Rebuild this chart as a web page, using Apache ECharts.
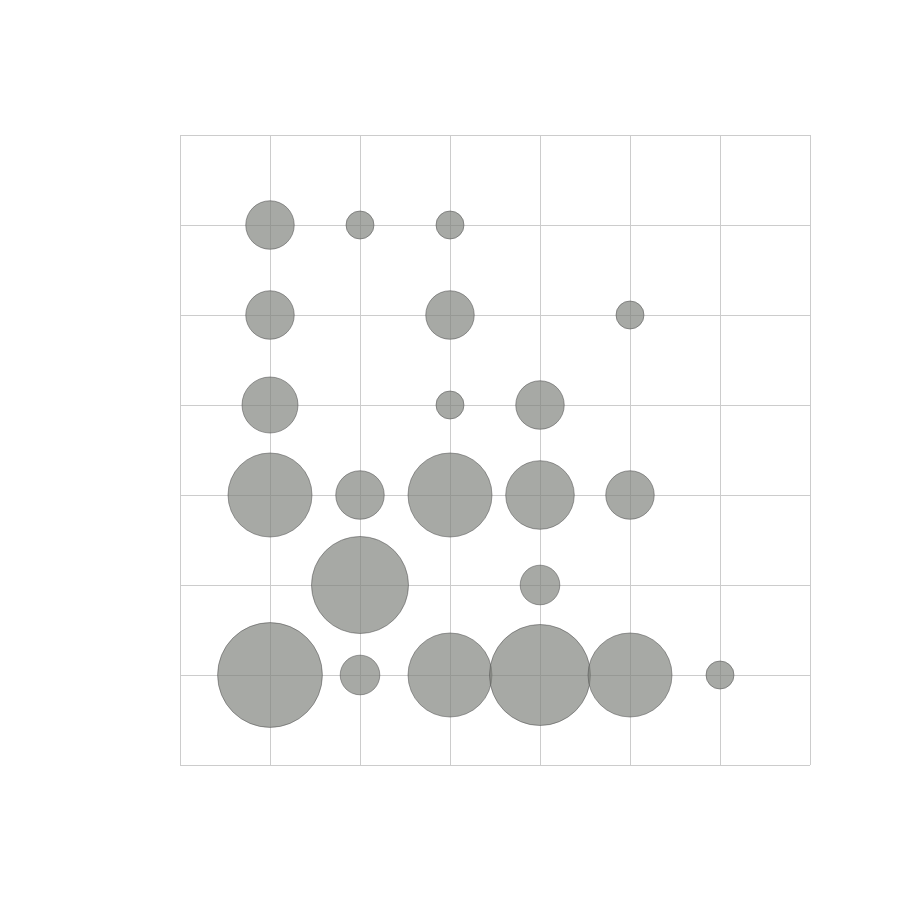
<!DOCTYPE html>
<html>
<head>
<meta charset="utf-8">
<script src="https://cdn.jsdelivr.net/npm/echarts@6/dist/echarts.min.js"></script>
<style>html,body{margin:0;padding:0;background:#fff}#c{width:900px;height:900px}</style>
</head>
<body>
<div id="c"></div>
<script>
const xValues = [1,2,3, 1,3,5, 1,3,4, 1,2,3,4,5, 2,4, 1,2,3,4,5,6];
const yValues = [6,6,6, 5,5,5, 4,4,4, 3,3,3,3,3, 2,2, 1,1,1,1,1,1];
const counts  = [3,1,1, 3,3,1, 4,1,3, 9,3,9,6,3, 12,2, 14,2,9,13,9,1];

const data = xValues.map((x, i) => [x, yValues[i], counts[i]]);
const chart = echarts.init(document.getElementById('c'));
const axisCommon = {
  type: 'value', min: 0, max: 7, interval: 1,
  axisLabel: { show: false }, axisTick: { show: false },
  axisLine: { show: false },
  splitLine: { show: true, lineStyle: { color: '#cccccc', width: 1 } }
};
chart.setOption({
  animation: false,
  backgroundColor: '#ffffff',
  grid: { left: 180, right: 90, top: 135, bottom: 135 },
  xAxis: axisCommon,
  yAxis: axisCommon,
  series: [{
    type: 'scatter',
    data: data,
    symbolSize: d => 28 * Math.sqrt(d[2]),
    itemStyle: { color: 'rgba(125,128,123,0.68)', borderColor: 'rgba(80,80,80,0.9)', borderWidth: 0.6, opacity: 1 }
  }]
});
</script>
</body>
</html>
